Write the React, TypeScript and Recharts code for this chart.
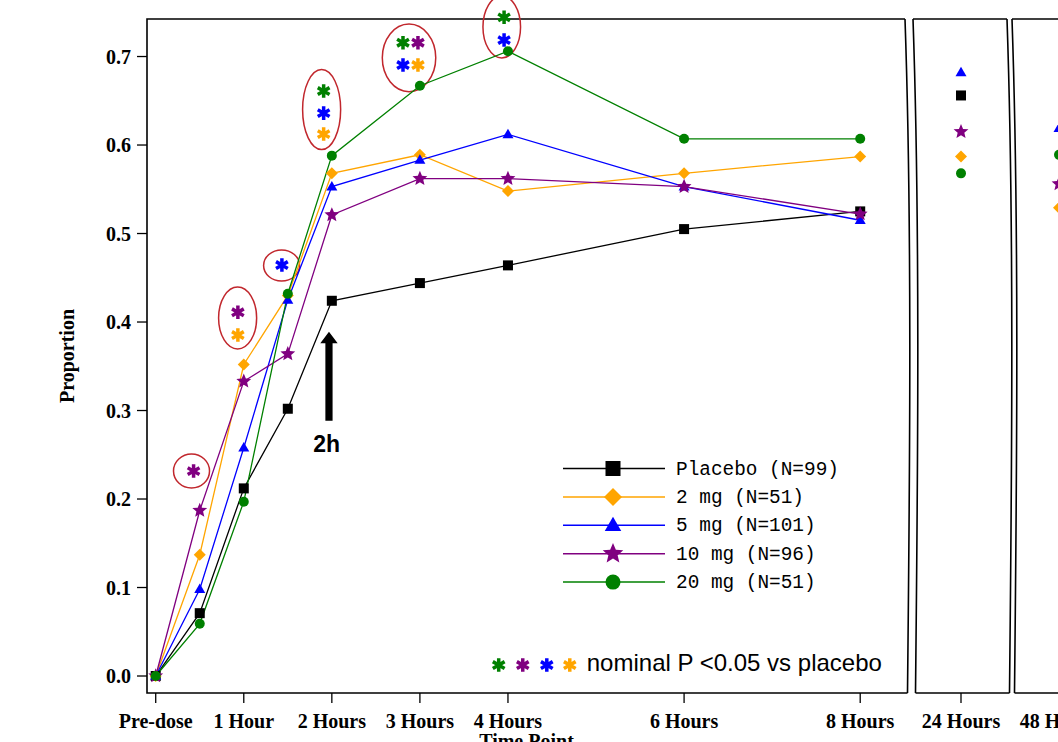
import React from 'react';
import { LineChart, Line, XAxis, YAxis, ReferenceArea, ReferenceDot, Legend } from 'recharts';

// ---------- data ----------
const mainHours = [0, 0.5, 1, 1.5, 2, 3, 4, 6, 8];
const placeboMain = [0, 0.071, 0.212, 0.302, 0.424, 0.444, 0.464, 0.505, 0.525];
const mg2Main = [0, 0.137, 0.352, 0.43, 0.568, 0.589, 0.548, 0.568, 0.587];
const mg5Main = [0, 0.098, 0.258, 0.425, 0.553, 0.583, 0.612, 0.553, 0.515];
const mg10Main = [0, 0.187, 0.333, 0.364, 0.521, 0.562, 0.562, 0.553, 0.522];
const mg20Main = [0, 0.059, 0.197, 0.432, 0.588, 0.667, 0.706, 0.607, 0.607];

const lateHours = [24, 48];
const placeboLate = [0.656, null];
const mg2Late = [0.587, 0.529];
const mg5Late = [0.682, 0.619];
const mg10Late = [0.615, 0.556];
const mg20Late = [0.568, 0.589];

const mainTicks = [0, 1, 2, 3, 4, 6, 8];
const mainTickLabels = ['Pre-dose', '1 Hour', '2 Hours', '3 Hours', '4 Hours', '6 Hours', '8 Hours'];
const lateTickLabels = ['24 Hours', '48 Hours'];
const yTicks = [0, 0.1, 0.2, 0.3, 0.4, 0.5, 0.6, 0.7];

const seriesKeys = ['placebo', 'mg2', 'mg5', 'mg10', 'mg20'];
const seriesNames = ['Placebo (N=99)', '2 mg (N=51)', '5 mg (N=101)', '10 mg (N=96)', '20 mg (N=51)'];

// significance annotations (data space)
const sigEllipses = [
  { x1: 0.202, x2: 0.611, y1: 0.2124, y2: 0.2508 },
  { x1: 0.714, x2: 1.146, y1: 0.3695, y2: 0.4395 },
  { x1: 1.225, x2: 1.634, y1: 0.4463, y2: 0.4814 },
  { x1: 1.668, x2: 2.1, y1: 0.5949, y2: 0.6853 },
  { x1: 2.573, x2: 3.18, y1: 0.6603, y2: 0.7367 },
  { x1: 3.716, x2: 4.143, y1: 0.6983, y2: 0.7684 },
];
const sigStars = [
  { hour: 0.43, value: 0.2316, series: 'mg10' },
  { hour: 0.933, value: 0.411, series: 'mg10' },
  { hour: 0.933, value: 0.3853, series: 'mg2' },
  { hour: 1.433, value: 0.4644, series: 'mg5' },
  { hour: 1.907, value: 0.661, series: 'mg20' },
  { hour: 1.907, value: 0.636, series: 'mg5' },
  { hour: 1.907, value: 0.6124, series: 'mg2' },
  { hour: 2.808, value: 0.7156, series: 'mg20' },
  { hour: 2.978, value: 0.7156, series: 'mg10' },
  { hour: 2.808, value: 0.6904, series: 'mg5' },
  { hour: 2.978, value: 0.6904, series: 'mg2' },
  { hour: 3.956, value: 0.7443, series: 'mg20' },
  { hour: 3.956, value: 0.7186, series: 'mg5' },
];
const footStars = [
  { hour: 3.895, series: 'mg20' },
  { hour: 4.168, series: 'mg10' },
  { hour: 4.441, series: 'mg5' },
  { hour: 4.702, series: 'mg2' },
];
const footStarValue = 0.0124;
const footTextHour = 4.895;
const footTextValue = 0.0057;
const footText = 'nominal P <0.05 vs placebo';

const arrowBox = { x1: 1.869, x2: 2.066, y1: 0.2885, y2: 0.389 };
const arrowLabel = { hour: 1.94, value: 0.253, text: '2h' };

// ---------- styles ----------
const COLORS: Record<string, string> = {
  placebo: '#000000',
  mg2: '#FFA500',
  mg5: '#0000FF',
  mg10: '#800080',
  mg20: '#008000',
};
const SHAPES: Record<string, string> = {
  placebo: 'square',
  mg2: 'diamond',
  mg5: 'triangle',
  mg10: 'star',
  mg20: 'circle',
};
const SIZES: Record<string, number> = {
  placebo: 10,
  mg2: 10,
  mg5: 10,
  mg10: 13,
  mg20: 10,
};
const RED = '#C1272D';
const SERIF = '"Liberation Serif", "Times New Roman", serif';
const SANS = '"Liberation Sans", Arial, sans-serif';
const MONO = '"Liberation Mono", "Courier New", monospace';

const Y_MIN = -0.0192;
const Y_MAX = 0.7424;
const X_MIN = -0.099;
const X_MAX = 8.52;

// ---------- tables built from arrays ----------
const mainData = mainHours.map((h, i) => ({
  hour: h,
  placebo: placeboMain[i],
  mg2: mg2Main[i],
  mg5: mg5Main[i],
  mg10: mg10Main[i],
  mg20: mg20Main[i],
}));
const lateData = lateHours.map((h, i) => ({
  hour: h,
  placebo: placeboLate[i],
  mg2: mg2Late[i],
  mg5: mg5Late[i],
  mg10: mg10Late[i],
  mg20: mg20Late[i],
}));

// ---------- shapes ----------
function Marker({ shape, cx, cy, color, s }: any) {
  if (cx == null || cy == null || isNaN(cx) || isNaN(cy)) return null;
  switch (shape) {
    case 'square':
      return <rect x={cx - s / 2} y={cy - s / 2} width={s} height={s} fill={color} />;
    case 'diamond': {
      const r = s * 0.6;
      return <polygon points={`${cx},${cy - r} ${cx + r},${cy} ${cx},${cy + r} ${cx - r},${cy}`} fill={color} />;
    }
    case 'triangle': {
      const h = s * 0.95;
      return (
        <polygon
          points={`${cx},${cy - h * 0.6} ${cx + s * 0.55},${cy + h * 0.4} ${cx - s * 0.55},${cy + h * 0.4}`}
          fill={color}
        />
      );
    }
    case 'star': {
      const R = s * 0.6;
      const r = R * 0.45;
      const pts: string[] = [];
      for (let k = 0; k < 10; k++) {
        const rad = k % 2 === 0 ? R : r;
        const a = -Math.PI / 2 + (k * Math.PI) / 5;
        pts.push(`${cx + rad * Math.cos(a)},${cy + rad * Math.sin(a)}`);
      }
      return <polygon points={pts.join(' ')} fill={color} />;
    }
    default:
      return <circle cx={cx} cy={cy} r={s / 2} fill={color} />;
  }
}

function Asterisk({ cx, cy, color }: any) {
  if (cx == null || cy == null) return null;
  const r = 6.8;
  const dx = r * Math.cos(Math.PI / 6);
  const dy = r * Math.sin(Math.PI / 6);
  const d = `M ${cx} ${cy - r} L ${cx} ${cy + r} M ${cx - dx} ${cy - dy} L ${cx + dx} ${cy + dy} M ${cx - dx} ${cy + dy} L ${cx + dx} ${cy - dy}`;
  return <path d={d} stroke={color} strokeWidth={3.5} fill="none" />;
}

function wavy(x: number, top: number, bottom: number) {
  const h = bottom - top;
  return `M ${x - 1} ${top} C ${x + 6} ${top + h * 0.3} ${x + 4} ${top + h * 0.65} ${x + 1.5} ${bottom}`;
}

function MainFrame(props: any) {
  const { x, y, width, height } = props;
  const r = x + width;
  return (
    <g>
      <path
        d={`M ${r - 1} ${y} L ${x} ${y} L ${x} ${y + height} L ${r + 1.5} ${y + height}`}
        fill="none"
        stroke="#000"
        strokeWidth={1.6}
      />
      <path d={wavy(r, y, y + height)} fill="none" stroke="#000" strokeWidth={1.6} />
    </g>
  );
}

function PanelFrame(props: any) {
  const { x, y, width, height } = props;
  const r = x + width;
  return (
    <g>
      <path d={`M ${x - 1} ${y} L ${r - 1} ${y}`} stroke="#000" strokeWidth={1.6} />
      <path d={`M ${x + 1.5} ${y + height} L ${r + 1.5} ${y + height}`} stroke="#000" strokeWidth={1.6} />
      <path d={wavy(x, y, y + height)} fill="none" stroke="#000" strokeWidth={1.6} />
      <path d={wavy(r, y, y + height)} fill="none" stroke="#000" strokeWidth={1.6} />
    </g>
  );
}

function EllipseShape(props: any) {
  const { x, y, width, height } = props;
  return (
    <ellipse
      cx={x + width / 2}
      cy={y + height / 2}
      rx={Math.abs(width) / 2}
      ry={Math.abs(height) / 2}
      fill="none"
      stroke={RED}
      strokeWidth={1.5}
    />
  );
}

function ArrowShape(props: any) {
  const { x, y, width, height } = props;
  const cx = x + width / 2;
  const head = 11.5;
  const shaft = 3.6;
  const bottom = y + height;
  const d = `M ${cx} ${y} L ${x + width} ${y + head} L ${cx + shaft} ${y + head} L ${cx + shaft} ${bottom} L ${cx - shaft} ${bottom} L ${cx - shaft} ${y + head} L ${x} ${y + head} Z`;
  return <path d={d} fill="#000" />;
}

const makeDot = (key: string) => (p: any) => (
  <g key={`${key}-${p.index}`}>
    <Marker shape={SHAPES[key]} cx={p.cx} cy={p.cy} color={COLORS[key]} s={SIZES[key]} />
  </g>
);

const renderLegend = (props: any) => {
  const payload = [...(props.payload || [])].sort(
    (a: any, b: any) => seriesKeys.indexOf(a.dataKey) - seriesKeys.indexOf(b.dataKey)
  );
  return (
    <svg width={300} height={145} style={{ display: 'block' }}>
      {payload.map((p: any, i: number) => {
        const key = p.dataKey as string;
        const y = 13.5 + i * 28.4;
        return (
          <g key={key}>
            <line x1={8} x2={110} y1={y} y2={y} stroke={COLORS[key]} strokeWidth={1.5} />
            <Marker shape={SHAPES[key]} cx={58} cy={y} color={COLORS[key]} s={key === 'mg10' ? 18 : 15} />
            <text x={121} y={y + 6} fontFamily={MONO} fontSize={19.4} fill="#000">
              {p.value}
            </text>
          </g>
        );
      })}
    </svg>
  );
};

const tickStyle = { fill: '#000', fontFamily: SERIF, fontWeight: 'bold', fontSize: 20 } as any;

function LatePanel({ index, left, width, domain }: any) {
  const hour = lateHours[index];
  const data = [lateData[index]];
  return (
    <div style={{ position: 'absolute', left, top: 0 }}>
      <LineChart width={width} height={760} data={data} margin={{ top: 19, right: 10, bottom: 17, left: 10 }}>
        <XAxis
          dataKey="hour"
          type="number"
          domain={domain}
          allowDataOverflow
          ticks={[hour]}
          tickFormatter={() => lateTickLabels[index]}
          axisLine={false}
          tickLine={{ stroke: '#000', strokeWidth: 1.3 }}
          tickSize={10}
          tickMargin={11}
          height={50}
          interval={0}
          tick={tickStyle}
        />
        <YAxis hide type="number" domain={[Y_MIN, Y_MAX]} allowDataOverflow />
        <ReferenceArea
          x1={domain[0]}
          x2={domain[1]}
          y1={Y_MIN}
          y2={Y_MAX}
          ifOverflow="visible"
          shape={(p: any) => <PanelFrame {...p} />}
        />
        {seriesKeys.map((k) => (
          <Line
            key={k}
            dataKey={k}
            stroke={COLORS[k]}
            isAnimationActive={false}
            dot={makeDot(k)}
            activeDot={false}
            legendType="none"
          />
        ))}
      </LineChart>
    </div>
  );
}

export default function App() {
  return (
    <div
      style={{
        position: 'absolute',
        left: 0,
        top: 0,
        width: 1058,
        height: 742,
        overflow: 'hidden',
        background: '#fff',
      }}
    >
      <div style={{ position: 'absolute', left: 0, top: 0 }}>
        <LineChart width={930} height={760} data={mainData} margin={{ top: 19, right: 24, bottom: 17, left: 87 }}>
          <XAxis
            dataKey="hour"
            type="number"
            domain={[X_MIN, X_MAX]}
            allowDataOverflow
            ticks={mainTicks}
            tickFormatter={(v: number) => mainTickLabels[mainTicks.indexOf(v)] ?? ''}
            axisLine={false}
            tickLine={{ stroke: '#000', strokeWidth: 1.3 }}
            tickSize={10}
            tickMargin={11}
            height={50}
            interval={0}
            tick={tickStyle}
            label={{
              value: 'Time Point',
              position: 'bottom',
              offset: -9,
              fill: '#000',
              fontFamily: SERIF,
              fontWeight: 'bold',
              fontSize: 20,
            }}
          />
          <YAxis
            type="number"
            domain={[Y_MIN, Y_MAX]}
            allowDataOverflow
            ticks={yTicks}
            tickFormatter={(v: number) => v.toFixed(1)}
            axisLine={false}
            tickLine={{ stroke: '#000', strokeWidth: 1.3 }}
            tickSize={10}
            tickMargin={6}
            width={60}
            interval={0}
            tick={tickStyle}
            label={{
              content: (props: any) => {
                const vb = props.viewBox || { x: 87, y: 19, width: 60, height: 674 };
                const tx = vb.x - 13;
                const ty = vb.y + vb.height / 2;
                return (
                  <text
                    x={tx}
                    y={ty}
                    transform={`rotate(-90 ${tx} ${ty})`}
                    textAnchor="middle"
                    fontFamily={SERIF}
                    fontWeight="bold"
                    fontSize={20}
                    fill="#000"
                  >
                    Proportion
                  </text>
                );
              },
            }}
          />
          <ReferenceArea
            x1={X_MIN}
            x2={X_MAX}
            y1={Y_MIN}
            y2={Y_MAX}
            ifOverflow="visible"
            shape={(p: any) => <MainFrame {...p} />}
          />
          {sigEllipses.map((e, i) => (
            <ReferenceArea
              key={`el-${i}`}
              x1={e.x1}
              x2={e.x2}
              y1={e.y1}
              y2={e.y2}
              ifOverflow="visible"
              shape={(p: any) => <EllipseShape {...p} />}
            />
          ))}
          <ReferenceArea
            x1={arrowBox.x1}
            x2={arrowBox.x2}
            y1={arrowBox.y1}
            y2={arrowBox.y2}
            ifOverflow="visible"
            shape={(p: any) => <ArrowShape {...p} />}
          />
          {seriesKeys.map((k, i) => (
            <Line
              key={k}
              dataKey={k}
              name={seriesNames[i]}
              stroke={COLORS[k]}
              strokeWidth={1.3}
              isAnimationActive={false}
              dot={makeDot(k)}
              activeDot={false}
            />
          ))}
          {sigStars.map((s, i) => (
            <ReferenceDot
              key={`st-${i}`}
              x={s.hour}
              y={s.value}
              ifOverflow="visible"
              shape={(p: any) => <Asterisk cx={p.cx} cy={p.cy} color={COLORS[s.series]} />}
            />
          ))}
          {footStars.map((s, i) => (
            <ReferenceDot
              key={`fs-${i}`}
              x={s.hour}
              y={footStarValue}
              ifOverflow="visible"
              shape={(p: any) => <Asterisk cx={p.cx} cy={p.cy} color={COLORS[s.series]} />}
            />
          ))}
          <ReferenceDot
            x={footTextHour}
            y={footTextValue}
            ifOverflow="visible"
            shape={(p: any) => (
              <text x={p.cx} y={p.cy} fontFamily={SANS} fontSize={24} fill="#000">
                {footText}
              </text>
            )}
          />
          <ReferenceDot
            x={arrowLabel.hour}
            y={arrowLabel.value}
            ifOverflow="visible"
            shape={(p: any) => (
              <text x={p.cx} y={p.cy} textAnchor="middle" fontFamily={SANS} fontWeight="bold" fontSize={23} fill="#000">
                {arrowLabel.text}
              </text>
            )}
          />
          <Legend
            layout="vertical"
            align="center"
            verticalAlign="middle"
            content={renderLegend}
            wrapperStyle={{ left: 555, top: 455, width: 300, height: 145 }}
          />
        </LineChart>
      </div>
      <LatePanel index={0} left={904} width={114} domain={[23, 25]} />
      <LatePanel index={1} left={1003} width={112} domain={[47, 49]} />
    </div>
  );
}
